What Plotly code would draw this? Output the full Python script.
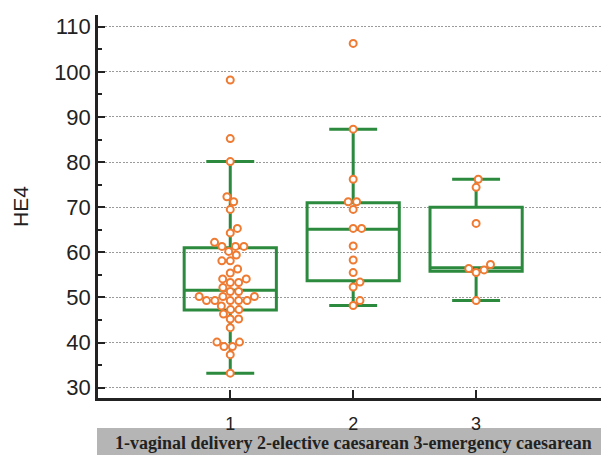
import plotly.graph_objects as go

# ---------------- data ----------------
categories = [1, 2, 3]
group_labels = ["1", "2", "3"]

g1_values = [98.2, 85.2, 80.1, 72.3, 71.2, 69.5, 65.3, 64.3, 62.2, 61.3, 61.3, 61.3,
             60.2, 59.4, 58.1, 58.1, 56.3, 55.4, 54.1, 54.1, 53.3, 53.3, 52.2, 51.3,
             51.3, 50.2, 50.2, 50.2, 49.3, 49.3, 49.3, 49.3, 49.3, 48.1, 47.3, 47.3,
             46.3, 45.2, 45.2, 43.3, 40.1, 40.1, 39.1, 39.1, 37.3, 33.2]
g2_values = [106.3, 87.3, 76.2, 71.2, 71.2, 69.5, 65.3, 65.3, 61.4, 58.3, 55.5,
             53.4, 52.3, 49.3, 48.2]
g3_values = [76.2, 74.4, 66.4, 57.3, 56.4, 56.1, 55.5, 49.3]

q1_vals = [47.2, 53.7, 55.8]
median_vals = [51.6, 65.1, 56.6]
q3_vals = [61.0, 71.0, 70.0]
lower_fence = [33.2, 48.2, 49.3]
upper_fence = [80.1, 87.3, 76.2]

footer_text = "1-vaginal delivery 2-elective caesarean 3-emergency caesarean"

GREEN = "#2b8a3e"
ORANGE = "#ef7b33"

W, H = 601, 455
M_L, M_R, M_T, M_B = 98, 0, 15, 57
X_RANGE = [-0.076, 4.016]
Y_RANGE = [27.7, 112.6]
px_per_x = (W - M_L - M_R) / (X_RANGE[1] - X_RANGE[0])
px_per_y = (H - M_T - M_B) / (Y_RANGE[1] - Y_RANGE[0])


def swarm(vals, d=8.4):
    placed = []
    xs = [0.0] * len(vals)
    order = sorted(range(len(vals)), key=lambda i: vals[i])
    for i in order:
        y = vals[i] * px_per_y
        cands = [0.0]
        for px, py in placed:
            dy = abs(py - y)
            if dy < d:
                dx = (d * d - dy * dy) ** 0.5
                cands += [px + dx, px - dx]
        cands.sort(key=abs)
        chosen = 0.0
        for c in cands:
            if all((c - px) ** 2 + (y - py) ** 2 >= d * d - 1e-6 for px, py in placed):
                chosen = c
                break
        placed.append((chosen, y))
        xs[i] = chosen / px_per_x
    return xs


fig = go.Figure()

for k, cat in enumerate(categories):
    fig.add_trace(go.Box(
        x=[cat], q1=[q1_vals[k]], median=[median_vals[k]], q3=[q3_vals[k]],
        lowerfence=[lower_fence[k]], upperfence=[upper_fence[k]],
        width=0.75, whiskerwidth=0.52, boxpoints=False,
        line=dict(color=GREEN, width=3), fillcolor="rgba(0,0,0,0)",
        showlegend=False, hoverinfo="skip"))

for cat, vals in zip(categories, [g1_values, g2_values, g3_values]):
    offs = swarm(vals)
    fig.add_trace(go.Scatter(
        x=[cat + o for o in offs], y=vals, mode="markers",
        marker=dict(symbol="circle", size=7, color="white",
                    line=dict(color=ORANGE, width=2)),
        showlegend=False))

fig.update_layout(
    width=W, height=H,
    margin=dict(l=M_L, r=M_R, t=M_T, b=M_B),
    plot_bgcolor="white", paper_bgcolor="white",
    font=dict(family="Liberation Sans, Arial, sans-serif", color="#222"),
    xaxis=dict(range=X_RANGE, tickvals=categories, ticktext=group_labels,
               ticks="inside", ticklen=8, tickwidth=2, tickcolor="#222",
               showline=True, linewidth=2.5, linecolor="#222",
               showgrid=False, zeroline=False, tickfont=dict(size=18),
               ticklabelstandoff=8),
    yaxis=dict(range=Y_RANGE, tickvals=list(range(30, 111, 10)),
               ticks="inside", ticklen=7, tickwidth=2, tickcolor="#222",
               minor=dict(ticks="inside", ticklen=4, tickwidth=1.5, dtick=5, tick0=0,
                          tickcolor="#222", showgrid=False),
               showline=True, linewidth=2.5, linecolor="#222",
               showgrid=True, gridcolor="#9a9a9a", griddash="2px,1.5px", gridwidth=1,
               zeroline=False, tickfont=dict(size=22),
               title=dict(text="HE4", font=dict(size=21), standoff=20)),
    shapes=[dict(type="rect", xref="paper", yref="paper", x0=-0.002, x1=1.0,
                 y0=-0.149, y1=-0.0783, fillcolor="#b5b5b5", line=dict(width=0),
                 layer="below")],
    annotations=[dict(text="<b>" + footer_text + "</b>", xref="paper", yref="paper",
                      x=0.508, y=-0.1175, showarrow=False, xanchor="center", yanchor="middle",
                      font=dict(family="Liberation Serif, Times New Roman, serif",
                                size=18, color="#222"))],
)

fig.write_html(
    "out.html",
    config={"displayModeBar": False},
    post_script="document.body.style.margin='0px';document.body.style.overflow='hidden';",
)
